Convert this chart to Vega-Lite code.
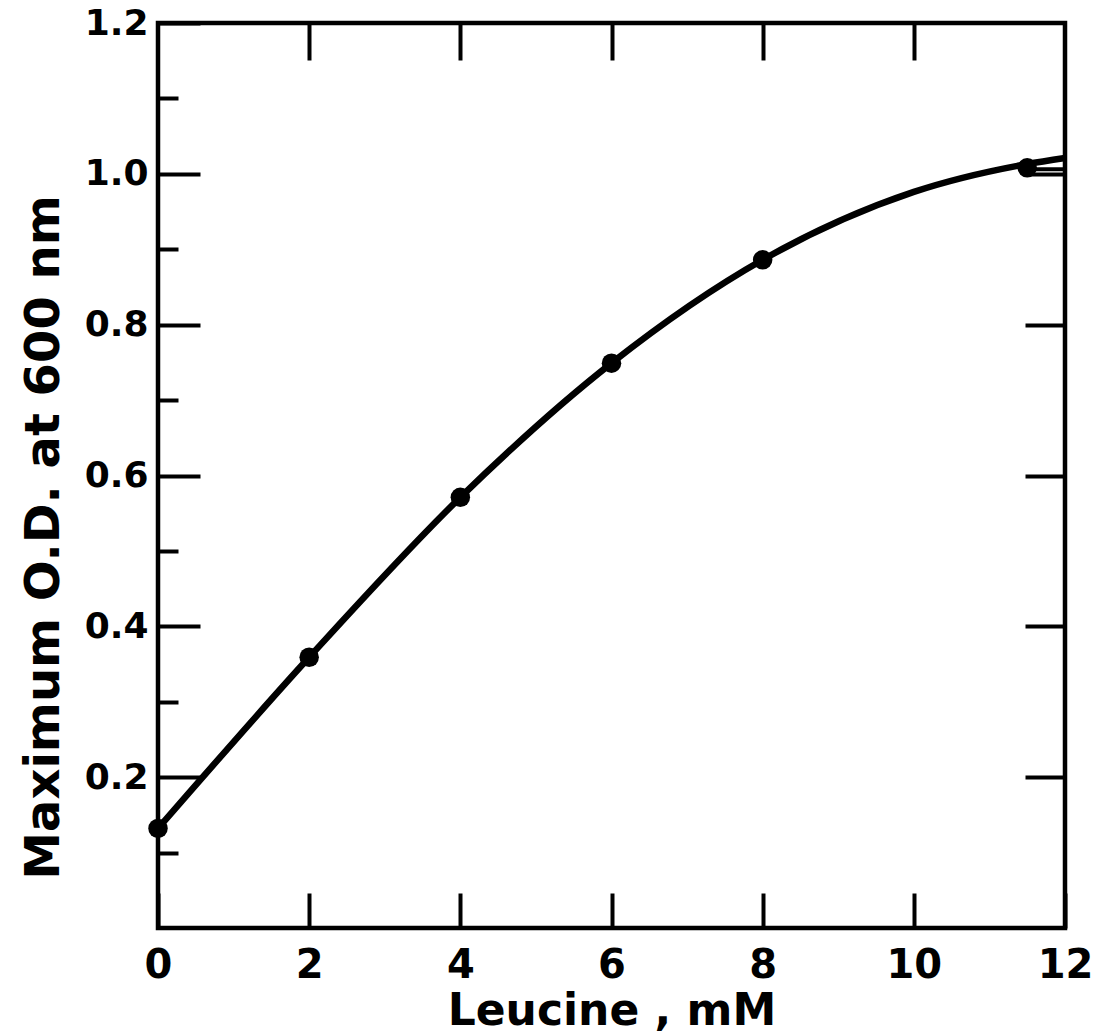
{
  "$schema": "https://vega.github.io/schema/vega-lite/v6.json",
  "autosize": "none",
  "width": 907,
  "height": 905,
  "padding": {"left": 158, "top": 23, "right": 32, "bottom": 106},
  "background": "white",
  "config": {
    "view": {"stroke": "black", "strokeWidth": 4.5},
    "axis": {
      "domain": false,
      "grid": false,
      "tickColor": "black",
      "tickWidth": 4,
      "labelColor": "black",
      "titleColor": "black",
      "labelFont": "DejaVu Sans",
      "titleFont": "DejaVu Sans",
      "labelFontWeight": "bold",
      "titleFontWeight": "bold",
      "labelFlush": false
    }
  },
  "datasets": {
    "points": [
      {"leucine": 0, "od": 0.132},
      {"leucine": 2, "od": 0.359},
      {"leucine": 4, "od": 0.571},
      {"leucine": 6, "od": 0.749},
      {"leucine": 8, "od": 0.886},
      {"leucine": 11.5, "od": 1.008}
    ],
    "curve": [
      {"leucine": 0, "od": 0.132},
      {"leucine": 2, "od": 0.359},
      {"leucine": 4, "od": 0.571},
      {"leucine": 6, "od": 0.749},
      {"leucine": 8, "od": 0.886},
      {"leucine": 10, "od": 0.976},
      {"leucine": 11.5, "od": 1.013},
      {"leucine": 12, "od": 1.021}
    ],
    "segment": [
      {"leucine": 11.5, "od": 1.006},
      {"leucine": 12, "od": 1.006}
    ]
  },
  "resolve": {"axis": {"x": "independent", "y": "independent"}},
  "layer": [
    {
      "data": {"name": "curve"},
      "mark": {"type": "line", "interpolate": "monotone", "color": "black", "strokeWidth": 6.5},
      "encoding": {
        "x": {
          "field": "leucine", "type": "quantitative",
          "scale": {"domain": [0, 12], "nice": false, "zero": false},
          "axis": {
            "orient": "bottom", "values": [0, 2, 4, 6, 8, 10, 12],
            "tickSize": -35, "labelPadding": 52, "labelFontSize": 40,
            "title": "Leucine , mM", "titleFontSize": 44, "titlePadding": 4
          }
        },
        "y": {
          "field": "od", "type": "quantitative",
          "scale": {"domain": [0, 1.2], "nice": false, "zero": false},
          "axis": {
            "orient": "left", "values": [0.2, 0.4, 0.6, 0.8, 1.0, 1.2],
            "format": ".1f",
            "tickSize": -42, "labelPadding": 52, "labelFontSize": 36,
            "title": "Maximum  O.D.  at 600 nm", "titleFontSize": 48, "titlePadding": 16,
            "titleY": 514
          }
        }
      }
    },
    {
      "data": {"name": "points"},
      "mark": {"type": "point", "filled": true, "color": "black", "opacity": 1, "size": 380},
      "encoding": {
        "x": {
          "field": "leucine", "type": "quantitative",
          "scale": {"domain": [0, 12], "nice": false, "zero": false},
          "axis": {"orient": "top", "values": [2, 4, 6, 8, 10], "tickSize": -37, "labels": false, "title": null}
        },
        "y": {
          "field": "od", "type": "quantitative",
          "scale": {"domain": [0, 1.2], "nice": false, "zero": false},
          "axis": {"orient": "left", "values": [0.1, 0.3, 0.5, 0.7, 0.9, 1.1], "tickSize": -20, "labels": false, "title": null}
        }
      }
    },
    {
      "data": {"name": "segment"},
      "mark": {"type": "line", "color": "black", "strokeWidth": 4},
      "encoding": {
        "x": {
          "field": "leucine", "type": "quantitative",
          "scale": {"domain": [0, 12], "nice": false, "zero": false},
          "axis": null
        },
        "y": {
          "field": "od", "type": "quantitative",
          "scale": {"domain": [0, 1.2], "nice": false, "zero": false},
          "axis": {"orient": "right", "values": [0.2, 0.4, 0.6, 0.8, 1.0], "tickSize": -40, "labels": false, "title": null}
        }
      }
    }
  ]
}
